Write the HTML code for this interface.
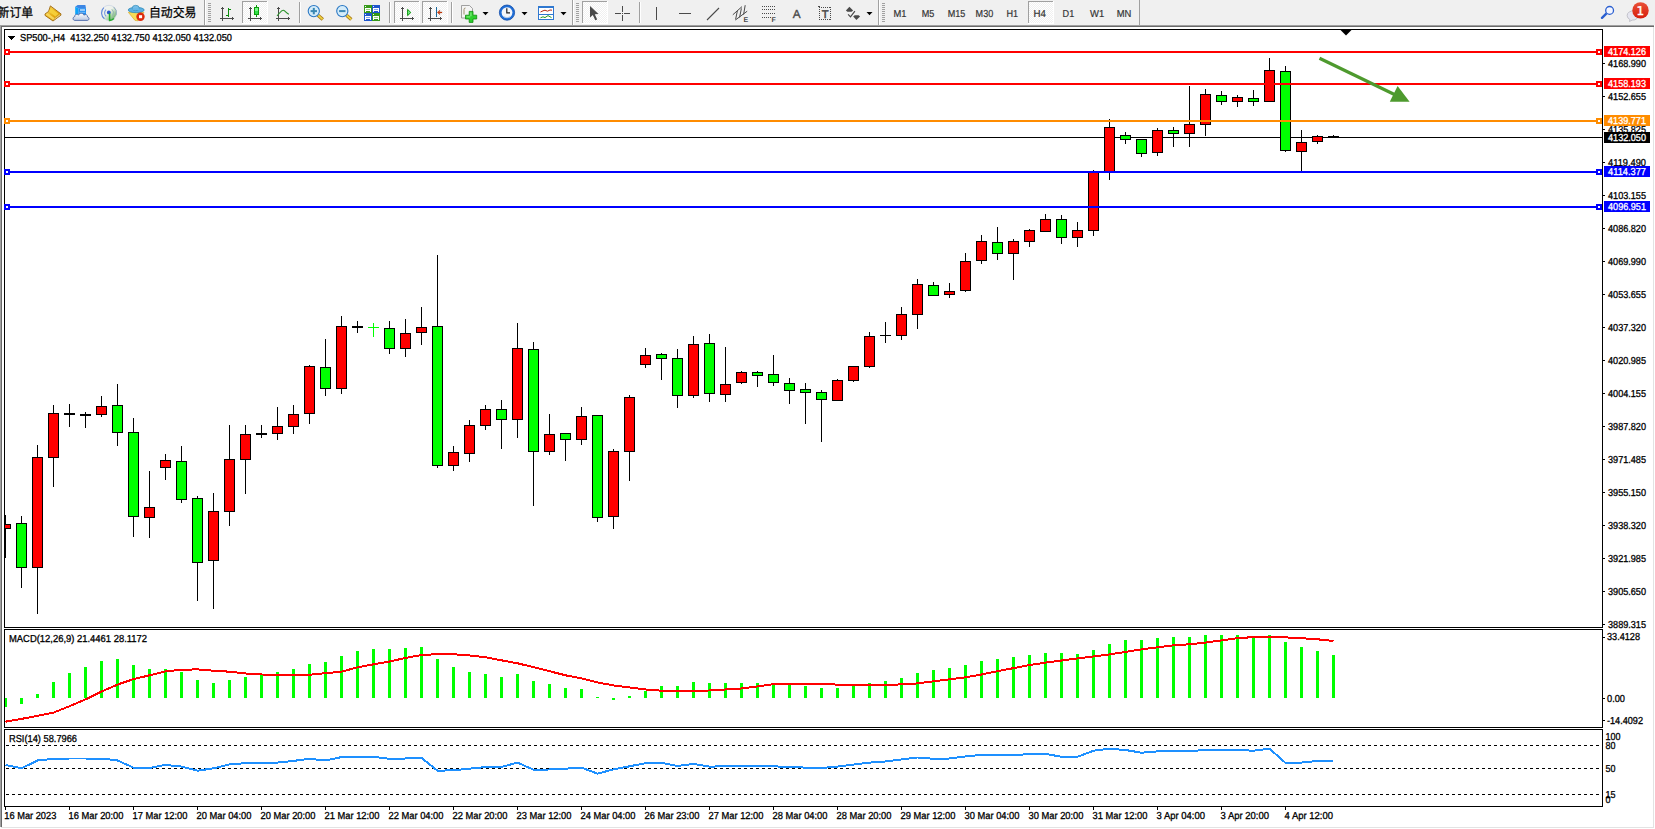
<!DOCTYPE html>
<html lang="zh"><head><meta charset="utf-8"><title>SP500-,H4</title>
<style>html,body{margin:0;padding:0;background:#fff;overflow:hidden}svg{display:block;font-family:"Liberation Sans",sans-serif;text-rendering:geometricPrecision}</style></head><body>
<svg width="1655" height="829" viewBox="0 0 1655 829">
<rect x="0" y="0" width="1655" height="25" fill="#f0f0f0"/>
<defs><pattern id="dith" width="2" height="2" patternUnits="userSpaceOnUse"><rect width="2" height="2" fill="#f0f0f0"/><rect x="0" y="0" width="1" height="1" fill="#fff"/><rect x="1" y="1" width="1" height="1" fill="#fff"/></pattern></defs>
<text x="-2.4" y="16.5" font-size="12.8" fill="#000" stroke="#000" stroke-width="0.25" font-family="'Liberation Sans','Noto Sans CJK SC',sans-serif" textLength="35.6" lengthAdjust="spacingAndGlyphs">新订单</text>
<defs><linearGradient id="gb" x1="0" y1="0" x2="1" y2="1"><stop offset="0" stop-color="#fbe070"/><stop offset="0.55" stop-color="#e6ac10"/><stop offset="1" stop-color="#c88a10"/></linearGradient><linearGradient id="gc" x1="0" y1="0" x2="0" y2="1"><stop offset="0" stop-color="#ffffff"/><stop offset="1" stop-color="#b8c6e0"/></linearGradient><radialGradient id="gs" cx="0.5" cy="0.5" r="0.5"><stop offset="0" stop-color="#ffffff" stop-opacity="0.2"/><stop offset="1" stop-color="#58a858" stop-opacity="0.85"/></radialGradient></defs>
<g><polygon points="50.4,5.9 60.9,13.8 60.9,15.2 53,21 45,15.4 45,14 48.6,11.4" fill="url(#gb)" stroke="#a06a10" stroke-width="0.9" stroke-linejoin="round"/><polygon points="51,8.2 58.4,13.8 55.4,16.4 48.8,11.6" fill="#f6d23c" opacity="0.9"/><polygon points="45.8,14.5 47.6,13 54.8,18.3 53,20" fill="#f8d860" opacity="0.9"/><polygon points="53.6,20.2 60.3,15 60,14.2 55.6,17.7" fill="#e4d8a4"/></g>
<g><polygon points="75.2,6.8 77.6,5 85.4,5 86,8.2 78.4,8.2" fill="#3c86e4"/><polygon points="75.2,6.8 78.4,8.2 78.4,16 75.2,16" fill="#0ca4fa"/><rect x="78.4" y="8.2" width="7.6" height="8" fill="#1e8cf0"/><rect x="80" y="9.4" width="5" height="1.2" fill="#e8f4ff"/><rect x="79.4" y="11.8" width="6" height="1" fill="#7cc0fa"/><path d="M74.8 20.4 C72.6 20.4 72.4 17 74.8 16.5 C74.5 14.3 77.4 13.5 78.5 15.1 C79.5 12.6 83.3 12.8 83.9 15.1 C85.5 13.8 88 15 87.5 16.9 C89.6 17.3 89.4 20.4 87.3 20.4 Z" fill="url(#gc)" stroke="#4a68a8" stroke-width="0.9"/></g>
<defs><linearGradient id="gs2" x1="0.1" y1="0.1" x2="0.9" y2="0.9"><stop offset="0" stop-color="#f2f2f2"/><stop offset="0.45" stop-color="#eef2ea"/><stop offset="1" stop-color="#62ac62"/></linearGradient></defs>
<g fill="none"><circle cx="109" cy="12.9" r="7.6" fill="url(#gs2)" stroke="#c8d2e2" stroke-width="0.7"/><path d="M103.8 7.6 a7.5 7.5 0 0 0 0.6 11.2" stroke="#4a78d8" stroke-width="1.1" opacity="0.85"/><path d="M106 9.6 a4.6 4.6 0 0 0 0.2 6.8" stroke="#5a86dc" stroke-width="1.1" opacity="0.8"/><path d="M111.8 9.2 a4.8 4.8 0 0 1 0.8 6.4" stroke="#88aeb0" stroke-width="1" opacity="0.8"/><path d="M113.6 6.9 a7.5 7.5 0 0 1 2.6 8" stroke="#7a9ab0" stroke-width="1" opacity="0.7"/><circle cx="108.8" cy="12.4" r="1.9" fill="#2a58cc"/><path d="M109.6 13.2 V20.4 a7.6 7.6 0 0 0 4.4 -1.9" stroke="#22a82c" stroke-width="1.5"/></g>
<g><polygon points="128.3,12.3 144,12.3 138,20.8 135,20.4" fill="#f6dc58" stroke="#d4a420" stroke-width="0.6"/><ellipse cx="136.2" cy="10" rx="8" ry="2.7" fill="#5cb0e2" stroke="#2a86b4" stroke-width="0.7"/><ellipse cx="135.7" cy="8" rx="3.5" ry="2.7" fill="#74bce8" stroke="#2a86b4" stroke-width="0.6"/><rect x="132.6" y="8.2" width="6.4" height="1.8" fill="#66b6e6"/><circle cx="140.5" cy="16.7" r="4.2" fill="#de2a0c"/><rect x="139" y="15.2" width="3.1" height="3" fill="#fff"/></g>
<text x="148.9" y="16.5" font-size="12.8" fill="#000" stroke="#000" stroke-width="0.25" font-family="'Liberation Sans','Noto Sans CJK SC',sans-serif" textLength="47.5" lengthAdjust="spacingAndGlyphs">自动交易</text>
<rect x="204" y="0" width="1" height="25" fill="#a0a0a0" shape-rendering="crispEdges"/>
<rect x="205" y="0" width="1" height="25" fill="#ffffff" shape-rendering="crispEdges"/>
<g shape-rendering="crispEdges" fill="#a0a0a0"><rect x="208" y="3" width="3" height="1"/><rect x="208" y="5" width="3" height="1"/><rect x="208" y="7" width="3" height="1"/><rect x="208" y="9" width="3" height="1"/><rect x="208" y="11" width="3" height="1"/><rect x="208" y="13" width="3" height="1"/><rect x="208" y="15" width="3" height="1"/><rect x="208" y="17" width="3" height="1"/><rect x="208" y="19" width="3" height="1"/><rect x="208" y="21" width="3" height="1"/></g>
<g shape-rendering="crispEdges" fill="#4a4a4a"><rect x="222" y="7" width="1" height="14"/><rect x="220" y="18" width="14" height="1"/><rect x="221" y="8" width="3" height="1"/><rect x="232" y="17" width="1" height="3"/></g>
<g shape-rendering="crispEdges" fill="#0c8c0c"><rect x="228" y="8" width="1" height="9"/><rect x="226" y="15" width="2" height="1"/><rect x="229" y="9" width="2" height="1"/></g>
<g shape-rendering="crispEdges"><rect x="242" y="1" width="26" height="23" fill="url(#dith)"/><rect x="242" y="1" width="26" height="1" fill="#a0a0a0"/><rect x="242" y="1" width="1" height="22" fill="#a0a0a0"/><rect x="242" y="23" width="26" height="1" fill="#ffffff"/><rect x="267" y="1" width="1" height="23" fill="#ffffff"/></g>
<g shape-rendering="crispEdges" fill="#4a4a4a"><rect x="250" y="7" width="1" height="14"/><rect x="248" y="18" width="14" height="1"/><rect x="249" y="8" width="3" height="1"/><rect x="260" y="17" width="1" height="3"/></g>
<g shape-rendering="crispEdges"><rect x="256" y="5" width="1" height="12" fill="#0c9c0c"/><rect x="254" y="7" width="5" height="8" fill="#0c9c0c"/><rect x="255" y="8" width="3" height="3" fill="#78f888"/><rect x="255" y="11" width="3" height="3" fill="#30e048"/></g>
<g shape-rendering="crispEdges" fill="#4a4a4a"><rect x="278" y="7" width="1" height="14"/><rect x="276" y="18" width="14" height="1"/><rect x="277" y="8" width="3" height="1"/><rect x="288" y="17" width="1" height="3"/></g>
<path d="M277 15.8 C279.5 13.5 281.4 9.9 283.3 10.3 C285.2 10.7 286.6 13.4 288.9 14.2" fill="none" stroke="#2a922a" stroke-width="1.15"/>
<rect x="299" y="2" width="1" height="21" fill="#a0a0a0" shape-rendering="crispEdges"/>
<rect x="300" y="2" width="1" height="21" fill="#ffffff" shape-rendering="crispEdges"/>
<g><line x1="318.0" y1="15.2" x2="322.8" y2="19.6" stroke="#a87818" stroke-width="3.4" stroke-linecap="butt"/><line x1="318.0" y1="15.2" x2="322.6" y2="19.4" stroke="#f0d440" stroke-width="1.8" stroke-linecap="butt"/><circle cx="313.8" cy="11.1" r="5.6" fill="#d4ecfa" stroke="#2a78c4" stroke-width="1.1"/><rect x="310.6" y="10.1" width="6.4" height="2" fill="#3a88b4"/><rect x="312.8" y="7.9" width="2" height="6.4" fill="#3a88b4"/></g>
<g><line x1="346.5" y1="15.2" x2="351.3" y2="19.6" stroke="#a87818" stroke-width="3.4" stroke-linecap="butt"/><line x1="346.5" y1="15.2" x2="351.1" y2="19.4" stroke="#f0d440" stroke-width="1.8" stroke-linecap="butt"/><circle cx="342.3" cy="11.1" r="5.6" fill="#d4ecfa" stroke="#2a78c4" stroke-width="1.1"/><rect x="339.1" y="10.1" width="6.4" height="2" fill="#3a88b4"/></g>
<g shape-rendering="crispEdges"><rect x="364" y="5" width="8" height="8" fill="#379a18"/><rect x="365" y="6" width="1" height="1" fill="#e8f0ff"/><rect x="365" y="8" width="6" height="3" fill="#fff"/><rect x="365" y="11" width="1" height="1" fill="#fff"/><rect x="370" y="11" width="1" height="1" fill="#fff"/><rect x="366" y="9" width="4" height="1" fill="#9ad080"/><rect x="372" y="5" width="8" height="8" fill="#1f56cc"/><rect x="373" y="6" width="1" height="1" fill="#e8f0ff"/><rect x="373" y="8" width="6" height="3" fill="#fff"/><rect x="373" y="11" width="1" height="1" fill="#fff"/><rect x="378" y="11" width="1" height="1" fill="#fff"/><rect x="374" y="9" width="4" height="1" fill="#8aa8ec"/><rect x="364" y="13" width="8" height="8" fill="#1f56cc"/><rect x="365" y="14" width="1" height="1" fill="#e8f0ff"/><rect x="365" y="16" width="6" height="3" fill="#fff"/><rect x="365" y="19" width="1" height="1" fill="#fff"/><rect x="370" y="19" width="1" height="1" fill="#fff"/><rect x="366" y="17" width="4" height="1" fill="#8aa8ec"/><rect x="372" y="13" width="8" height="8" fill="#379a18"/><rect x="373" y="14" width="1" height="1" fill="#e8f0ff"/><rect x="373" y="16" width="6" height="3" fill="#fff"/><rect x="373" y="19" width="1" height="1" fill="#fff"/><rect x="378" y="19" width="1" height="1" fill="#fff"/><rect x="374" y="17" width="4" height="1" fill="#9ad080"/></g>
<rect x="389" y="2" width="1" height="21" fill="#a0a0a0" shape-rendering="crispEdges"/>
<rect x="390" y="2" width="1" height="21" fill="#ffffff" shape-rendering="crispEdges"/>
<g shape-rendering="crispEdges"><rect x="394" y="1" width="26" height="23" fill="url(#dith)"/><rect x="394" y="1" width="26" height="1" fill="#a0a0a0"/><rect x="394" y="1" width="1" height="22" fill="#a0a0a0"/><rect x="394" y="23" width="26" height="1" fill="#ffffff"/><rect x="419" y="1" width="1" height="23" fill="#ffffff"/></g>
<g shape-rendering="crispEdges" fill="#4a4a4a"><rect x="402" y="7" width="1" height="14"/><rect x="400" y="18" width="14" height="1"/><rect x="401" y="8" width="3" height="1"/><rect x="412" y="17" width="1" height="3"/></g>
<polygon points="407.6,9.4 410.8,12.5 407.6,15.6" fill="#70f080" stroke="#0c960c" stroke-width="1" stroke-linejoin="round"/>
<g shape-rendering="crispEdges"><rect x="422" y="1" width="26" height="23" fill="url(#dith)"/><rect x="422" y="1" width="26" height="1" fill="#a0a0a0"/><rect x="422" y="1" width="1" height="22" fill="#a0a0a0"/><rect x="422" y="23" width="26" height="1" fill="#ffffff"/><rect x="447" y="1" width="1" height="23" fill="#ffffff"/></g>
<g shape-rendering="crispEdges" fill="#4a4a4a"><rect x="430" y="7" width="1" height="14"/><rect x="428" y="18" width="14" height="1"/><rect x="429" y="8" width="3" height="1"/><rect x="440" y="17" width="1" height="3"/></g>
<g shape-rendering="crispEdges"><rect x="436" y="7" width="1" height="10" fill="#1a6a9c"/></g><polygon points="437.2,12.4 439.9,10 439.5,11.9 442,11.9 442,12.9 439.5,12.9 439.9,14.8" fill="#d8400c" stroke="#8a2a08" stroke-width="0.3"/>
<rect x="451" y="2" width="1" height="21" fill="#a0a0a0" shape-rendering="crispEdges"/>
<rect x="452" y="2" width="1" height="21" fill="#ffffff" shape-rendering="crispEdges"/>
<g><path d="M461.5 5.5 h8 l3 3 v9.5 h-11z" fill="#f4f4f4" stroke="#8a8a8a" stroke-width="0.8"/><path d="M465.5 8 q-1.5 0 -1.5 1.5 v5" fill="none" stroke="#8a7a50" stroke-width="0.8"/><path d="M469.2 11.4 h3.8 v3.8 h3.7 v3.8 h-3.7 v3.4 h-3.8 v-3.4 h-3.7 v-3.8 h3.7z" fill="#2ed02e" stroke="#0f8a0f" stroke-width="0.8"/><path d="M470.2 12.4 h1.4 v3.8 h-1.4z M466.5 16.2 h3.7 v1.2 h-3.7z" fill="#8af08a" opacity="0.8"/></g>
<polygon points="482.5,12 488.5,12 485.5,15.2" fill="#000"/>
<g><circle cx="507" cy="12.6" r="7.6" fill="#1f6fd8" stroke="#0f4aa8" stroke-width="0.8"/><circle cx="507" cy="12.6" r="5.4" fill="#f4f6fa"/><path d="M506.8 8.3 v4.6 h3.2" fill="none" stroke="#222" stroke-width="1.2"/><path d="M503.6 16.6 a5.6 5.6 0 0 0 6.8 0" fill="none" stroke="#9ab8e0" stroke-width="0.8"/></g>
<polygon points="521.5,12 527.5,12 524.5,15.2" fill="#000"/>
<g shape-rendering="crispEdges"><rect x="538" y="6" width="16" height="14" fill="#2f78d0"/><rect x="539" y="8" width="14" height="6" fill="#fff"/><rect x="539" y="15" width="14" height="4" fill="#fff"/></g><path d="M540.5 12 l2.5 -1.2 l2 -0.6 l2.5 1 l2.5 -1.2 l2 0.2" fill="none" stroke="#b02810" stroke-width="1"/><path d="M540.5 17.8 l2.5 -1 l2 0.8 l3 -2 l3.5 2" fill="none" stroke="#1f9a1f" stroke-width="1"/>
<polygon points="560.5,12 566.5,12 563.5,15.2" fill="#000"/>
<rect x="572" y="0" width="1" height="25" fill="#a0a0a0" shape-rendering="crispEdges"/>
<rect x="573" y="0" width="1" height="25" fill="#ffffff" shape-rendering="crispEdges"/>
<g shape-rendering="crispEdges" fill="#a0a0a0"><rect x="576" y="3" width="3" height="1"/><rect x="576" y="5" width="3" height="1"/><rect x="576" y="7" width="3" height="1"/><rect x="576" y="9" width="3" height="1"/><rect x="576" y="11" width="3" height="1"/><rect x="576" y="13" width="3" height="1"/><rect x="576" y="15" width="3" height="1"/><rect x="576" y="17" width="3" height="1"/><rect x="576" y="19" width="3" height="1"/><rect x="576" y="21" width="3" height="1"/></g>
<g shape-rendering="crispEdges"><rect x="582" y="1" width="26" height="23" fill="url(#dith)"/><rect x="582" y="1" width="26" height="1" fill="#a0a0a0"/><rect x="582" y="1" width="1" height="22" fill="#a0a0a0"/><rect x="582" y="23" width="26" height="1" fill="#ffffff"/><rect x="607" y="1" width="1" height="23" fill="#ffffff"/></g>
<polygon points="590,6 590,17.5 592.8,15 595.3,20.3 597.2,19.4 594.8,14.3 598.5,14" fill="#4a4a4a"/>
<g shape-rendering="crispEdges" fill="#4a4a4a"><rect x="622" y="6" width="1" height="6"/><rect x="622" y="15" width="1" height="6"/><rect x="615" y="13" width="6" height="1"/><rect x="624" y="13" width="6" height="1"/><rect x="622" y="13" width="1" height="1"/></g>
<rect x="639" y="2" width="1" height="21" fill="#a0a0a0" shape-rendering="crispEdges"/>
<rect x="640" y="2" width="1" height="21" fill="#ffffff" shape-rendering="crispEdges"/>
<g shape-rendering="crispEdges" fill="#4a4a4a"><rect x="656" y="7" width="1" height="13"/><rect x="679" y="13" width="12" height="1"/></g>
<line x1="707" y1="20" x2="719" y2="8" stroke="#4a4a4a" stroke-width="1.1"/>
<g stroke="#4a4a4a" stroke-width="1" fill="none"><line x1="732.8" y1="14.8" x2="742" y2="6.6"/><line x1="735.4" y1="20" x2="747.2" y2="11.2"/><line x1="737.4" y1="10.6" x2="735.6" y2="19.4"/><line x1="741.4" y1="8.4" x2="739.6" y2="17.4"/><line x1="745.2" y1="5.2" x2="743.6" y2="14.6"/></g>
<text x="743.5" y="22" font-size="7" font-weight="bold" fill="#4a4a4a">E</text>
<g shape-rendering="crispEdges" fill="#4a4a4a"><rect x="762" y="6" width="1" height="1"/><rect x="764" y="6" width="1" height="1"/><rect x="766" y="6" width="1" height="1"/><rect x="768" y="6" width="1" height="1"/><rect x="770" y="6" width="1" height="1"/><rect x="772" y="6" width="1" height="1"/><rect x="774" y="6" width="1" height="1"/><rect x="762" y="9" width="1" height="1"/><rect x="764" y="9" width="1" height="1"/><rect x="766" y="9" width="1" height="1"/><rect x="768" y="9" width="1" height="1"/><rect x="770" y="9" width="1" height="1"/><rect x="772" y="9" width="1" height="1"/><rect x="774" y="9" width="1" height="1"/><rect x="762" y="13" width="1" height="1"/><rect x="764" y="13" width="1" height="1"/><rect x="766" y="13" width="1" height="1"/><rect x="768" y="13" width="1" height="1"/><rect x="770" y="13" width="1" height="1"/><rect x="772" y="13" width="1" height="1"/><rect x="774" y="13" width="1" height="1"/><rect x="762" y="17" width="1" height="1"/><rect x="764" y="17" width="1" height="1"/><rect x="766" y="17" width="1" height="1"/><rect x="768" y="17" width="1" height="1"/><rect x="770" y="17" width="1" height="1"/></g>
<text x="771.5" y="22" font-size="7" font-weight="bold" fill="#4a4a4a">F</text>
<text x="796.8" y="18" font-size="11.8" fill="#4a4a4a" stroke="#4a4a4a" stroke-width="0.35" text-anchor="middle">A</text>
<g shape-rendering="crispEdges" fill="#4a4a4a"><rect x="819" y="7" width="1" height="1"/><rect x="819" y="19" width="1" height="1"/><rect x="821" y="7" width="1" height="1"/><rect x="821" y="19" width="1" height="1"/><rect x="823" y="7" width="1" height="1"/><rect x="823" y="19" width="1" height="1"/><rect x="825" y="7" width="1" height="1"/><rect x="825" y="19" width="1" height="1"/><rect x="827" y="7" width="1" height="1"/><rect x="827" y="19" width="1" height="1"/><rect x="829" y="7" width="1" height="1"/><rect x="829" y="19" width="1" height="1"/><rect x="819" y="7" width="1" height="1"/><rect x="830" y="7" width="1" height="1"/><rect x="819" y="9" width="1" height="1"/><rect x="830" y="9" width="1" height="1"/><rect x="819" y="11" width="1" height="1"/><rect x="830" y="11" width="1" height="1"/><rect x="819" y="13" width="1" height="1"/><rect x="830" y="13" width="1" height="1"/><rect x="819" y="15" width="1" height="1"/><rect x="830" y="15" width="1" height="1"/><rect x="819" y="17" width="1" height="1"/><rect x="830" y="17" width="1" height="1"/><rect x="819" y="19" width="1" height="1"/><rect x="830" y="19" width="1" height="1"/><rect x="818" y="6" width="2" height="1"/></g>
<text x="825.1" y="17.7" font-size="11.2" fill="#4a4a4a" stroke="#4a4a4a" stroke-width="0.5" text-anchor="middle">T</text>
<g fill="#4a4a4a"><polygon points="849.4,6.8 853.1,10.4 851.6,11.7 847.4,11.7 845.9,10.4"/><polygon points="856.4,20 853.2,16.5 854.7,15.2 858.6,15.2 860.1,16.5"/><path d="M848.1 14.4 l2.4 2.4 l4.4 -5.6" fill="none" stroke="#4a4a4a" stroke-width="1.2"/></g>
<polygon points="866.5,12 872.5,12 869.5,15.2" fill="#000"/>
<rect x="878" y="0" width="1" height="25" fill="#a0a0a0" shape-rendering="crispEdges"/>
<rect x="879" y="0" width="1" height="25" fill="#ffffff" shape-rendering="crispEdges"/>
<g shape-rendering="crispEdges" fill="#a0a0a0"><rect x="882" y="3" width="3" height="1"/><rect x="882" y="5" width="3" height="1"/><rect x="882" y="7" width="3" height="1"/><rect x="882" y="9" width="3" height="1"/><rect x="882" y="11" width="3" height="1"/><rect x="882" y="13" width="3" height="1"/><rect x="882" y="15" width="3" height="1"/><rect x="882" y="17" width="3" height="1"/><rect x="882" y="19" width="3" height="1"/><rect x="882" y="21" width="3" height="1"/></g>
<g shape-rendering="crispEdges"><rect x="1028" y="1" width="26" height="23" fill="url(#dith)"/><rect x="1028" y="1" width="26" height="1" fill="#a0a0a0"/><rect x="1028" y="1" width="1" height="22" fill="#a0a0a0"/><rect x="1028" y="23" width="26" height="1" fill="#ffffff"/><rect x="1053" y="1" width="1" height="23" fill="#ffffff"/></g>
<text x="893.5" y="17" font-size="10.2" fill="#333" stroke="#333" stroke-width="0.2" textLength="13" lengthAdjust="spacingAndGlyphs">M1</text>
<text x="921.7" y="17" font-size="10.2" fill="#333" stroke="#333" stroke-width="0.2" textLength="12.6" lengthAdjust="spacingAndGlyphs">M5</text>
<text x="947.7" y="17" font-size="10.2" fill="#333" stroke="#333" stroke-width="0.2" textLength="17.6" lengthAdjust="spacingAndGlyphs">M15</text>
<text x="975.6" y="17" font-size="10.2" fill="#333" stroke="#333" stroke-width="0.2" textLength="17.6" lengthAdjust="spacingAndGlyphs">M30</text>
<text x="1006.5" y="17" font-size="10.2" fill="#333" stroke="#333" stroke-width="0.2" textLength="11.6" lengthAdjust="spacingAndGlyphs">H1</text>
<text x="1033.5" y="17" font-size="10.2" fill="#333" stroke="#333" stroke-width="0.2" textLength="12.4" lengthAdjust="spacingAndGlyphs">H4</text>
<text x="1062.6" y="17" font-size="10.2" fill="#333" stroke="#333" stroke-width="0.2" textLength="11.6" lengthAdjust="spacingAndGlyphs">D1</text>
<text x="1090" y="17" font-size="10.2" fill="#333" stroke="#333" stroke-width="0.2" textLength="14.2" lengthAdjust="spacingAndGlyphs">W1</text>
<text x="1116.7" y="17" font-size="10.2" fill="#333" stroke="#333" stroke-width="0.2" textLength="14.6" lengthAdjust="spacingAndGlyphs">MN</text>
<rect x="1139" y="0" width="1" height="25" fill="#a0a0a0" shape-rendering="crispEdges"/>
<g><line x1="1606.3" y1="13.7" x2="1602" y2="17.8" stroke="#2a5fd0" stroke-width="2.4" stroke-linecap="round"/><circle cx="1609.6" cy="10.4" r="3.9" fill="#f4f6ff" stroke="#2a5fd0" stroke-width="1.3"/></g>
<defs><linearGradient id="bd" x1="0" y1="0" x2="0" y2="1"><stop offset="0" stop-color="#ea5238"/><stop offset="1" stop-color="#d61c0c"/></linearGradient></defs>
<g><path d="M1629.5 21.5 l0.4 -2 a5.6 4.6 0 1 1 2.2 0.6z" fill="#e6e6f0" stroke="#b8b8c0" stroke-width="0.8"/><circle cx="1640.5" cy="10.4" r="8.2" fill="url(#bd)"/><text x="1640.2" y="15" font-size="12" font-family="'DejaVu Sans',sans-serif" fill="#fff" stroke="#fff" stroke-width="0.4" text-anchor="middle">1</text></g>
<g shape-rendering="crispEdges">
<rect x="0" y="25" width="1655" height="804" fill="#fff"/>
<rect x="0" y="25" width="1655" height="1" fill="#a0a0a0"/>
<rect x="0" y="25" width="1" height="802" fill="#a0a0a0"/>
<rect x="1" y="26" width="1654" height="1" fill="#696969"/>
<rect x="1" y="26" width="1" height="801" fill="#696969"/>
<rect x="1653" y="27" width="1" height="801" fill="#e3e3e3"/>
<rect x="1654" y="25" width="1" height="804" fill="#fff"/>
<rect x="1" y="827" width="1653" height="1" fill="#e3e3e3"/>
<rect x="0" y="828" width="1655" height="1" fill="#fff"/>
<rect x="4" y="29" width="1599" height="1" fill="#000"/>
<rect x="4" y="627" width="1599" height="1" fill="#000"/>
<rect x="4" y="29" width="1" height="599" fill="#000"/>
<rect x="1602" y="29" width="1" height="599" fill="#000"/>
<rect x="4" y="629" width="1599" height="1" fill="#000"/>
<rect x="4" y="727" width="1599" height="1" fill="#000"/>
<rect x="4" y="629" width="1" height="99" fill="#000"/>
<rect x="1602" y="629" width="1" height="99" fill="#000"/>
<rect x="4" y="729" width="1599" height="1" fill="#000"/>
<rect x="4" y="806" width="1599" height="1" fill="#000"/>
<rect x="4" y="729" width="1" height="78" fill="#000"/>
<rect x="1602" y="729" width="1" height="78" fill="#000"/>
</g>
<defs><clipPath id="cm"><rect x="5" y="30" width="1597" height="597"/></clipPath><clipPath id="c2"><rect x="5" y="630" width="1597" height="97"/></clipPath><clipPath id="c3"><rect x="5" y="730" width="1597" height="76"/></clipPath></defs>
<g shape-rendering="crispEdges" clip-path="url(#cm)">
<rect x="5" y="137" width="1597" height="1" fill="#000"/>
<rect x="5" y="515" width="1" height="43" fill="#000"/>
<rect x="0" y="524" width="11" height="5" fill="#000"/>
<rect x="1" y="525" width="9" height="3" fill="#ff0000"/>
<rect x="21" y="516" width="1" height="72" fill="#000"/>
<rect x="16" y="523" width="11" height="45" fill="#000"/>
<rect x="17" y="524" width="9" height="43" fill="#00ff00"/>
<rect x="37" y="445" width="1" height="169" fill="#000"/>
<rect x="32" y="457" width="11" height="111" fill="#000"/>
<rect x="33" y="458" width="9" height="109" fill="#ff0000"/>
<rect x="53" y="405" width="1" height="82" fill="#000"/>
<rect x="48" y="413" width="11" height="45" fill="#000"/>
<rect x="49" y="414" width="9" height="43" fill="#ff0000"/>
<rect x="69" y="404" width="1" height="23" fill="#000"/>
<rect x="64" y="413" width="11" height="2" fill="#000"/>
<rect x="85" y="412" width="1" height="16" fill="#000"/>
<rect x="80" y="414" width="11" height="2" fill="#000"/>
<rect x="101" y="396" width="1" height="21" fill="#000"/>
<rect x="96" y="406" width="11" height="9" fill="#000"/>
<rect x="97" y="407" width="9" height="7" fill="#ff0000"/>
<rect x="117" y="384" width="1" height="62" fill="#000"/>
<rect x="112" y="405" width="11" height="28" fill="#000"/>
<rect x="113" y="406" width="9" height="26" fill="#00ff00"/>
<rect x="133" y="418" width="1" height="119" fill="#000"/>
<rect x="128" y="432" width="11" height="85" fill="#000"/>
<rect x="129" y="433" width="9" height="83" fill="#00ff00"/>
<rect x="149" y="471" width="1" height="67" fill="#000"/>
<rect x="144" y="507" width="11" height="11" fill="#000"/>
<rect x="145" y="508" width="9" height="9" fill="#ff0000"/>
<rect x="165" y="454" width="1" height="26" fill="#000"/>
<rect x="160" y="460" width="11" height="8" fill="#000"/>
<rect x="161" y="461" width="9" height="6" fill="#ff0000"/>
<rect x="181" y="446" width="1" height="57" fill="#000"/>
<rect x="176" y="461" width="11" height="39" fill="#000"/>
<rect x="177" y="462" width="9" height="37" fill="#00ff00"/>
<rect x="197" y="496" width="1" height="105" fill="#000"/>
<rect x="192" y="498" width="11" height="65" fill="#000"/>
<rect x="193" y="499" width="9" height="63" fill="#00ff00"/>
<rect x="213" y="493" width="1" height="116" fill="#000"/>
<rect x="208" y="511" width="11" height="50" fill="#000"/>
<rect x="209" y="512" width="9" height="48" fill="#ff0000"/>
<rect x="229" y="425" width="1" height="101" fill="#000"/>
<rect x="224" y="459" width="11" height="53" fill="#000"/>
<rect x="225" y="460" width="9" height="51" fill="#ff0000"/>
<rect x="245" y="425" width="1" height="69" fill="#000"/>
<rect x="240" y="434" width="11" height="26" fill="#000"/>
<rect x="241" y="435" width="9" height="24" fill="#ff0000"/>
<rect x="261" y="425" width="1" height="13" fill="#000"/>
<rect x="256" y="433" width="11" height="2" fill="#000"/>
<rect x="277" y="407" width="1" height="33" fill="#000"/>
<rect x="272" y="426" width="11" height="8" fill="#000"/>
<rect x="273" y="427" width="9" height="6" fill="#ff0000"/>
<rect x="293" y="405" width="1" height="29" fill="#000"/>
<rect x="288" y="414" width="11" height="13" fill="#000"/>
<rect x="289" y="415" width="9" height="11" fill="#ff0000"/>
<rect x="309" y="365" width="1" height="59" fill="#000"/>
<rect x="304" y="366" width="11" height="48" fill="#000"/>
<rect x="305" y="367" width="9" height="46" fill="#ff0000"/>
<rect x="325" y="339" width="1" height="57" fill="#000"/>
<rect x="320" y="367" width="11" height="22" fill="#000"/>
<rect x="321" y="368" width="9" height="20" fill="#00ff00"/>
<rect x="341" y="316" width="1" height="78" fill="#000"/>
<rect x="336" y="326" width="11" height="63" fill="#000"/>
<rect x="337" y="327" width="9" height="61" fill="#ff0000"/>
<rect x="357" y="321" width="1" height="12" fill="#000"/>
<rect x="352" y="326" width="11" height="2" fill="#000"/>
<rect x="373" y="323" width="1" height="14" fill="#00ff00"/>
<rect x="368" y="327" width="11" height="1" fill="#00ff00"/>
<rect x="389" y="321" width="1" height="33" fill="#000"/>
<rect x="384" y="328" width="11" height="21" fill="#000"/>
<rect x="385" y="329" width="9" height="19" fill="#00ff00"/>
<rect x="405" y="319" width="1" height="38" fill="#000"/>
<rect x="400" y="333" width="11" height="16" fill="#000"/>
<rect x="401" y="334" width="9" height="14" fill="#ff0000"/>
<rect x="421" y="307" width="1" height="38" fill="#000"/>
<rect x="416" y="327" width="11" height="6" fill="#000"/>
<rect x="417" y="328" width="9" height="4" fill="#ff0000"/>
<rect x="437" y="255" width="1" height="213" fill="#000"/>
<rect x="432" y="326" width="11" height="140" fill="#000"/>
<rect x="433" y="327" width="9" height="138" fill="#00ff00"/>
<rect x="453" y="446" width="1" height="25" fill="#000"/>
<rect x="448" y="452" width="11" height="14" fill="#000"/>
<rect x="449" y="453" width="9" height="12" fill="#ff0000"/>
<rect x="469" y="420" width="1" height="42" fill="#000"/>
<rect x="464" y="425" width="11" height="29" fill="#000"/>
<rect x="465" y="426" width="9" height="27" fill="#ff0000"/>
<rect x="485" y="405" width="1" height="25" fill="#000"/>
<rect x="480" y="409" width="11" height="17" fill="#000"/>
<rect x="481" y="410" width="9" height="15" fill="#ff0000"/>
<rect x="501" y="400" width="1" height="49" fill="#000"/>
<rect x="496" y="409" width="11" height="11" fill="#000"/>
<rect x="497" y="410" width="9" height="9" fill="#00ff00"/>
<rect x="517" y="323" width="1" height="115" fill="#000"/>
<rect x="512" y="348" width="11" height="72" fill="#000"/>
<rect x="513" y="349" width="9" height="70" fill="#ff0000"/>
<rect x="533" y="342" width="1" height="164" fill="#000"/>
<rect x="528" y="349" width="11" height="103" fill="#000"/>
<rect x="529" y="350" width="9" height="101" fill="#00ff00"/>
<rect x="549" y="414" width="1" height="41" fill="#000"/>
<rect x="544" y="434" width="11" height="18" fill="#000"/>
<rect x="545" y="435" width="9" height="16" fill="#ff0000"/>
<rect x="565" y="433" width="1" height="28" fill="#000"/>
<rect x="560" y="433" width="11" height="7" fill="#000"/>
<rect x="561" y="434" width="9" height="5" fill="#00ff00"/>
<rect x="581" y="407" width="1" height="38" fill="#000"/>
<rect x="576" y="416" width="11" height="24" fill="#000"/>
<rect x="577" y="417" width="9" height="22" fill="#ff0000"/>
<rect x="597" y="415" width="1" height="107" fill="#000"/>
<rect x="592" y="415" width="11" height="103" fill="#000"/>
<rect x="593" y="416" width="9" height="101" fill="#00ff00"/>
<rect x="613" y="449" width="1" height="80" fill="#000"/>
<rect x="608" y="451" width="11" height="66" fill="#000"/>
<rect x="609" y="452" width="9" height="64" fill="#ff0000"/>
<rect x="629" y="395" width="1" height="86" fill="#000"/>
<rect x="624" y="397" width="11" height="55" fill="#000"/>
<rect x="625" y="398" width="9" height="53" fill="#ff0000"/>
<rect x="645" y="348" width="1" height="20" fill="#000"/>
<rect x="640" y="355" width="11" height="10" fill="#000"/>
<rect x="641" y="356" width="9" height="8" fill="#ff0000"/>
<rect x="661" y="353" width="1" height="27" fill="#000"/>
<rect x="656" y="354" width="11" height="5" fill="#000"/>
<rect x="657" y="355" width="9" height="3" fill="#00ff00"/>
<rect x="677" y="349" width="1" height="59" fill="#000"/>
<rect x="672" y="358" width="11" height="38" fill="#000"/>
<rect x="673" y="359" width="9" height="36" fill="#00ff00"/>
<rect x="693" y="336" width="1" height="62" fill="#000"/>
<rect x="688" y="344" width="11" height="52" fill="#000"/>
<rect x="689" y="345" width="9" height="50" fill="#ff0000"/>
<rect x="709" y="334" width="1" height="68" fill="#000"/>
<rect x="704" y="343" width="11" height="51" fill="#000"/>
<rect x="705" y="344" width="9" height="49" fill="#00ff00"/>
<rect x="725" y="347" width="1" height="55" fill="#000"/>
<rect x="720" y="384" width="11" height="11" fill="#000"/>
<rect x="721" y="385" width="9" height="9" fill="#ff0000"/>
<rect x="741" y="371" width="1" height="13" fill="#000"/>
<rect x="736" y="372" width="11" height="11" fill="#000"/>
<rect x="737" y="373" width="9" height="9" fill="#ff0000"/>
<rect x="757" y="371" width="1" height="16" fill="#000"/>
<rect x="752" y="372" width="11" height="4" fill="#000"/>
<rect x="753" y="373" width="9" height="2" fill="#00ff00"/>
<rect x="773" y="355" width="1" height="31" fill="#000"/>
<rect x="768" y="374" width="11" height="9" fill="#000"/>
<rect x="769" y="375" width="9" height="7" fill="#00ff00"/>
<rect x="789" y="378" width="1" height="26" fill="#000"/>
<rect x="784" y="383" width="11" height="8" fill="#000"/>
<rect x="785" y="384" width="9" height="6" fill="#00ff00"/>
<rect x="805" y="383" width="1" height="41" fill="#000"/>
<rect x="800" y="389" width="11" height="4" fill="#000"/>
<rect x="801" y="390" width="9" height="2" fill="#00ff00"/>
<rect x="821" y="390" width="1" height="52" fill="#000"/>
<rect x="816" y="392" width="11" height="8" fill="#000"/>
<rect x="817" y="393" width="9" height="6" fill="#00ff00"/>
<rect x="837" y="379" width="1" height="22" fill="#000"/>
<rect x="832" y="380" width="11" height="21" fill="#000"/>
<rect x="833" y="381" width="9" height="19" fill="#ff0000"/>
<rect x="853" y="366" width="1" height="16" fill="#000"/>
<rect x="848" y="366" width="11" height="15" fill="#000"/>
<rect x="849" y="367" width="9" height="13" fill="#ff0000"/>
<rect x="869" y="332" width="1" height="36" fill="#000"/>
<rect x="864" y="336" width="11" height="31" fill="#000"/>
<rect x="865" y="337" width="9" height="29" fill="#ff0000"/>
<rect x="885" y="322" width="1" height="21" fill="#000"/>
<rect x="880" y="335" width="11" height="1" fill="#000"/>
<rect x="901" y="307" width="1" height="33" fill="#000"/>
<rect x="896" y="314" width="11" height="22" fill="#000"/>
<rect x="897" y="315" width="9" height="20" fill="#ff0000"/>
<rect x="917" y="279" width="1" height="50" fill="#000"/>
<rect x="912" y="284" width="11" height="31" fill="#000"/>
<rect x="913" y="285" width="9" height="29" fill="#ff0000"/>
<rect x="933" y="282" width="1" height="14" fill="#000"/>
<rect x="928" y="285" width="11" height="11" fill="#000"/>
<rect x="929" y="286" width="9" height="9" fill="#00ff00"/>
<rect x="949" y="283" width="1" height="15" fill="#000"/>
<rect x="944" y="291" width="11" height="4" fill="#000"/>
<rect x="945" y="292" width="9" height="2" fill="#ff0000"/>
<rect x="965" y="253" width="1" height="39" fill="#000"/>
<rect x="960" y="261" width="11" height="30" fill="#000"/>
<rect x="961" y="262" width="9" height="28" fill="#ff0000"/>
<rect x="981" y="235" width="1" height="29" fill="#000"/>
<rect x="976" y="241" width="11" height="20" fill="#000"/>
<rect x="977" y="242" width="9" height="18" fill="#ff0000"/>
<rect x="997" y="227" width="1" height="33" fill="#000"/>
<rect x="992" y="242" width="11" height="12" fill="#000"/>
<rect x="993" y="243" width="9" height="10" fill="#00ff00"/>
<rect x="1013" y="239" width="1" height="41" fill="#000"/>
<rect x="1008" y="241" width="11" height="13" fill="#000"/>
<rect x="1009" y="242" width="9" height="11" fill="#ff0000"/>
<rect x="1029" y="229" width="1" height="18" fill="#000"/>
<rect x="1024" y="230" width="11" height="12" fill="#000"/>
<rect x="1025" y="231" width="9" height="10" fill="#ff0000"/>
<rect x="1045" y="214" width="1" height="18" fill="#000"/>
<rect x="1040" y="219" width="11" height="13" fill="#000"/>
<rect x="1041" y="220" width="9" height="11" fill="#ff0000"/>
<rect x="1061" y="215" width="1" height="29" fill="#000"/>
<rect x="1056" y="219" width="11" height="19" fill="#000"/>
<rect x="1057" y="220" width="9" height="17" fill="#00ff00"/>
<rect x="1077" y="222" width="1" height="25" fill="#000"/>
<rect x="1072" y="230" width="11" height="8" fill="#000"/>
<rect x="1073" y="231" width="9" height="6" fill="#ff0000"/>
<rect x="1093" y="170" width="1" height="66" fill="#000"/>
<rect x="1088" y="172" width="11" height="59" fill="#000"/>
<rect x="1089" y="173" width="9" height="57" fill="#ff0000"/>
<rect x="1109" y="119" width="1" height="61" fill="#000"/>
<rect x="1104" y="127" width="11" height="46" fill="#000"/>
<rect x="1105" y="128" width="9" height="44" fill="#ff0000"/>
<rect x="1125" y="132" width="1" height="12" fill="#000"/>
<rect x="1120" y="135" width="11" height="5" fill="#000"/>
<rect x="1121" y="136" width="9" height="3" fill="#00ff00"/>
<rect x="1141" y="139" width="1" height="18" fill="#000"/>
<rect x="1136" y="139" width="11" height="15" fill="#000"/>
<rect x="1137" y="140" width="9" height="13" fill="#00ff00"/>
<rect x="1157" y="128" width="1" height="28" fill="#000"/>
<rect x="1152" y="130" width="11" height="23" fill="#000"/>
<rect x="1153" y="131" width="9" height="21" fill="#ff0000"/>
<rect x="1173" y="127" width="1" height="20" fill="#000"/>
<rect x="1168" y="130" width="11" height="4" fill="#000"/>
<rect x="1169" y="131" width="9" height="2" fill="#00ff00"/>
<rect x="1189" y="86" width="1" height="61" fill="#000"/>
<rect x="1184" y="124" width="11" height="10" fill="#000"/>
<rect x="1185" y="125" width="9" height="8" fill="#ff0000"/>
<rect x="1205" y="89" width="1" height="47" fill="#000"/>
<rect x="1200" y="94" width="11" height="31" fill="#000"/>
<rect x="1201" y="95" width="9" height="29" fill="#ff0000"/>
<rect x="1221" y="91" width="1" height="14" fill="#000"/>
<rect x="1216" y="95" width="11" height="7" fill="#000"/>
<rect x="1217" y="96" width="9" height="5" fill="#00ff00"/>
<rect x="1237" y="95" width="1" height="12" fill="#000"/>
<rect x="1232" y="97" width="11" height="5" fill="#000"/>
<rect x="1233" y="98" width="9" height="3" fill="#ff0000"/>
<rect x="1253" y="90" width="1" height="16" fill="#000"/>
<rect x="1248" y="98" width="11" height="4" fill="#000"/>
<rect x="1249" y="99" width="9" height="2" fill="#00ff00"/>
<rect x="1269" y="58" width="1" height="44" fill="#000"/>
<rect x="1264" y="70" width="11" height="32" fill="#000"/>
<rect x="1265" y="71" width="9" height="30" fill="#ff0000"/>
<rect x="1285" y="66" width="1" height="86" fill="#000"/>
<rect x="1280" y="71" width="11" height="80" fill="#000"/>
<rect x="1281" y="72" width="9" height="78" fill="#00ff00"/>
<rect x="1301" y="130" width="1" height="41" fill="#000"/>
<rect x="1296" y="142" width="11" height="10" fill="#000"/>
<rect x="1297" y="143" width="9" height="8" fill="#ff0000"/>
<rect x="1317" y="135" width="1" height="9" fill="#000"/>
<rect x="1312" y="136" width="11" height="6" fill="#000"/>
<rect x="1313" y="137" width="9" height="4" fill="#ff0000"/>
<rect x="1333" y="135" width="1" height="3" fill="#000"/>
<rect x="1328" y="136" width="11" height="2" fill="#000"/>
<rect x="5" y="51" width="1597" height="2" fill="#ff0000"/>
<rect x="5" y="83" width="1597" height="2" fill="#ff0000"/>
<rect x="5" y="120" width="1597" height="2" fill="#ff8c00"/>
<rect x="5" y="171" width="1597" height="2" fill="#0000ff"/>
<rect x="5" y="206" width="1597" height="2" fill="#0000ff"/>
</g>
<g shape-rendering="crispEdges">
<rect x="4" y="49" width="6" height="6" fill="#ff0000"/>
<rect x="6" y="51" width="2" height="2" fill="#fff"/>
<rect x="1596" y="49" width="6" height="6" fill="#ff0000"/>
<rect x="1598" y="51" width="2" height="2" fill="#fff"/>
<rect x="4" y="81" width="6" height="6" fill="#ff0000"/>
<rect x="6" y="83" width="2" height="2" fill="#fff"/>
<rect x="1596" y="81" width="6" height="6" fill="#ff0000"/>
<rect x="1598" y="83" width="2" height="2" fill="#fff"/>
<rect x="4" y="118" width="6" height="6" fill="#ff8c00"/>
<rect x="6" y="120" width="2" height="2" fill="#fff"/>
<rect x="1596" y="118" width="6" height="6" fill="#ff8c00"/>
<rect x="1598" y="120" width="2" height="2" fill="#fff"/>
<rect x="4" y="169" width="6" height="6" fill="#0000ff"/>
<rect x="6" y="171" width="2" height="2" fill="#fff"/>
<rect x="1596" y="169" width="6" height="6" fill="#0000ff"/>
<rect x="1598" y="171" width="2" height="2" fill="#fff"/>
<rect x="4" y="204" width="6" height="6" fill="#0000ff"/>
<rect x="6" y="206" width="2" height="2" fill="#fff"/>
<rect x="1596" y="204" width="6" height="6" fill="#0000ff"/>
<rect x="1598" y="206" width="2" height="2" fill="#fff"/>
</g>
<g fill="#4e9a2e" stroke="none">
<line x1="1319.5" y1="58.3" x2="1396" y2="95.2" stroke="#4e9a2e" stroke-width="3.2"/>
<polygon points="1397.6,86.0 1409.6,101.8 1389.8,101.8"/>
</g>
<polygon points="1340.5,30 1351.5,30 1346,35.5" fill="#000"/>
<polygon points="8,36 15,36 11.5,39.8" fill="#000" shape-rendering="crispEdges"/>
<text x="20" y="41" font-size="10.1" fill="#000" stroke="#000" stroke-width="0.3" textLength="212" lengthAdjust="spacingAndGlyphs" xml:space="preserve">SP500-,H4  4132.250 4132.750 4132.050 4132.050</text>
<g shape-rendering="crispEdges">
<rect x="1603" y="63" width="2" height="1" fill="#000"/>
<rect x="1603" y="96" width="2" height="1" fill="#000"/>
<rect x="1603" y="129" width="2" height="1" fill="#000"/>
<rect x="1603" y="162" width="2" height="1" fill="#000"/>
<rect x="1603" y="195" width="2" height="1" fill="#000"/>
<rect x="1603" y="228" width="2" height="1" fill="#000"/>
<rect x="1603" y="261" width="2" height="1" fill="#000"/>
<rect x="1603" y="294" width="2" height="1" fill="#000"/>
<rect x="1603" y="327" width="2" height="1" fill="#000"/>
<rect x="1603" y="360" width="2" height="1" fill="#000"/>
<rect x="1603" y="393" width="2" height="1" fill="#000"/>
<rect x="1603" y="426" width="2" height="1" fill="#000"/>
<rect x="1603" y="459" width="2" height="1" fill="#000"/>
<rect x="1603" y="492" width="2" height="1" fill="#000"/>
<rect x="1603" y="525" width="2" height="1" fill="#000"/>
<rect x="1603" y="558" width="2" height="1" fill="#000"/>
<rect x="1603" y="591" width="2" height="1" fill="#000"/>
<rect x="1603" y="624" width="2" height="1" fill="#000"/>
</g>
<text x="1608" y="67" font-size="10.1" fill="#000" stroke="#000" stroke-width="0.3" textLength="38" lengthAdjust="spacingAndGlyphs">4168.990</text>
<text x="1608" y="100" font-size="10.1" fill="#000" stroke="#000" stroke-width="0.3" textLength="38" lengthAdjust="spacingAndGlyphs">4152.655</text>
<text x="1608" y="133" font-size="10.1" fill="#000" stroke="#000" stroke-width="0.3" textLength="38" lengthAdjust="spacingAndGlyphs">4135.825</text>
<text x="1608" y="166" font-size="10.1" fill="#000" stroke="#000" stroke-width="0.3" textLength="38" lengthAdjust="spacingAndGlyphs">4119.490</text>
<text x="1608" y="199" font-size="10.1" fill="#000" stroke="#000" stroke-width="0.3" textLength="38" lengthAdjust="spacingAndGlyphs">4103.155</text>
<text x="1608" y="232" font-size="10.1" fill="#000" stroke="#000" stroke-width="0.3" textLength="38" lengthAdjust="spacingAndGlyphs">4086.820</text>
<text x="1608" y="265" font-size="10.1" fill="#000" stroke="#000" stroke-width="0.3" textLength="38" lengthAdjust="spacingAndGlyphs">4069.990</text>
<text x="1608" y="298" font-size="10.1" fill="#000" stroke="#000" stroke-width="0.3" textLength="38" lengthAdjust="spacingAndGlyphs">4053.655</text>
<text x="1608" y="331" font-size="10.1" fill="#000" stroke="#000" stroke-width="0.3" textLength="38" lengthAdjust="spacingAndGlyphs">4037.320</text>
<text x="1608" y="364" font-size="10.1" fill="#000" stroke="#000" stroke-width="0.3" textLength="38" lengthAdjust="spacingAndGlyphs">4020.985</text>
<text x="1608" y="397" font-size="10.1" fill="#000" stroke="#000" stroke-width="0.3" textLength="38" lengthAdjust="spacingAndGlyphs">4004.155</text>
<text x="1608" y="430" font-size="10.1" fill="#000" stroke="#000" stroke-width="0.3" textLength="38" lengthAdjust="spacingAndGlyphs">3987.820</text>
<text x="1608" y="463" font-size="10.1" fill="#000" stroke="#000" stroke-width="0.3" textLength="38" lengthAdjust="spacingAndGlyphs">3971.485</text>
<text x="1608" y="496" font-size="10.1" fill="#000" stroke="#000" stroke-width="0.3" textLength="38" lengthAdjust="spacingAndGlyphs">3955.150</text>
<text x="1608" y="529" font-size="10.1" fill="#000" stroke="#000" stroke-width="0.3" textLength="38" lengthAdjust="spacingAndGlyphs">3938.320</text>
<text x="1608" y="562" font-size="10.1" fill="#000" stroke="#000" stroke-width="0.3" textLength="38" lengthAdjust="spacingAndGlyphs">3921.985</text>
<text x="1608" y="595" font-size="10.1" fill="#000" stroke="#000" stroke-width="0.3" textLength="38" lengthAdjust="spacingAndGlyphs">3905.650</text>
<text x="1608" y="628" font-size="10.1" fill="#000" stroke="#000" stroke-width="0.3" textLength="38" lengthAdjust="spacingAndGlyphs">3889.315</text>
<g shape-rendering="crispEdges">
<rect x="1604" y="46" width="46" height="11" fill="#ff0000"/>
<rect x="1604" y="78" width="46" height="11" fill="#ff0000"/>
<rect x="1604" y="115" width="46" height="11" fill="#ff8c00"/>
<rect x="1604" y="132" width="46" height="11" fill="#000000"/>
<rect x="1604" y="166" width="46" height="11" fill="#0000ff"/>
<rect x="1604" y="201" width="46" height="11" fill="#0000ff"/>
</g>
<text x="1608" y="55" font-size="10.1" fill="#fff" stroke="#fff" stroke-width="0.3" textLength="38" lengthAdjust="spacingAndGlyphs">4174.126</text>
<text x="1608" y="87" font-size="10.1" fill="#fff" stroke="#fff" stroke-width="0.3" textLength="38" lengthAdjust="spacingAndGlyphs">4158.193</text>
<text x="1608" y="124" font-size="10.1" fill="#fff" stroke="#fff" stroke-width="0.3" textLength="38" lengthAdjust="spacingAndGlyphs">4139.771</text>
<text x="1608" y="141" font-size="10.1" fill="#fff" stroke="#fff" stroke-width="0.3" textLength="38" lengthAdjust="spacingAndGlyphs">4132.050</text>
<text x="1608" y="175" font-size="10.1" fill="#fff" stroke="#fff" stroke-width="0.3" textLength="38" lengthAdjust="spacingAndGlyphs">4114.377</text>
<text x="1608" y="210" font-size="10.1" fill="#fff" stroke="#fff" stroke-width="0.3" textLength="38" lengthAdjust="spacingAndGlyphs">4096.951</text>
<g shape-rendering="crispEdges" clip-path="url(#c2)">
<rect x="4" y="698" width="3" height="9" fill="#00ff00"/>
<rect x="20" y="698" width="3" height="6" fill="#00ff00"/>
<rect x="36" y="694" width="3" height="4" fill="#00ff00"/>
<rect x="52" y="682" width="3" height="16" fill="#00ff00"/>
<rect x="68" y="673" width="3" height="25" fill="#00ff00"/>
<rect x="84" y="667" width="3" height="31" fill="#00ff00"/>
<rect x="100" y="661" width="3" height="37" fill="#00ff00"/>
<rect x="116" y="659" width="3" height="39" fill="#00ff00"/>
<rect x="132" y="665" width="3" height="33" fill="#00ff00"/>
<rect x="148" y="669" width="3" height="29" fill="#00ff00"/>
<rect x="164" y="669" width="3" height="29" fill="#00ff00"/>
<rect x="180" y="672" width="3" height="26" fill="#00ff00"/>
<rect x="196" y="680" width="3" height="18" fill="#00ff00"/>
<rect x="212" y="683" width="3" height="15" fill="#00ff00"/>
<rect x="228" y="680" width="3" height="18" fill="#00ff00"/>
<rect x="244" y="677" width="3" height="21" fill="#00ff00"/>
<rect x="260" y="675" width="3" height="23" fill="#00ff00"/>
<rect x="276" y="672" width="3" height="26" fill="#00ff00"/>
<rect x="292" y="669" width="3" height="29" fill="#00ff00"/>
<rect x="308" y="664" width="3" height="34" fill="#00ff00"/>
<rect x="324" y="662" width="3" height="36" fill="#00ff00"/>
<rect x="340" y="656" width="3" height="42" fill="#00ff00"/>
<rect x="356" y="651" width="3" height="47" fill="#00ff00"/>
<rect x="372" y="649" width="3" height="49" fill="#00ff00"/>
<rect x="388" y="649" width="3" height="49" fill="#00ff00"/>
<rect x="404" y="648" width="3" height="50" fill="#00ff00"/>
<rect x="420" y="647" width="3" height="51" fill="#00ff00"/>
<rect x="436" y="659" width="3" height="39" fill="#00ff00"/>
<rect x="452" y="667" width="3" height="31" fill="#00ff00"/>
<rect x="468" y="672" width="3" height="26" fill="#00ff00"/>
<rect x="484" y="674" width="3" height="24" fill="#00ff00"/>
<rect x="500" y="677" width="3" height="21" fill="#00ff00"/>
<rect x="516" y="674" width="3" height="24" fill="#00ff00"/>
<rect x="532" y="681" width="3" height="17" fill="#00ff00"/>
<rect x="548" y="684" width="3" height="14" fill="#00ff00"/>
<rect x="564" y="688" width="3" height="10" fill="#00ff00"/>
<rect x="580" y="689" width="3" height="9" fill="#00ff00"/>
<rect x="596" y="697" width="3" height="1" fill="#00ff00"/>
<rect x="612" y="698" width="3" height="2" fill="#00ff00"/>
<rect x="628" y="696" width="3" height="2" fill="#00ff00"/>
<rect x="644" y="691" width="3" height="7" fill="#00ff00"/>
<rect x="660" y="686" width="3" height="12" fill="#00ff00"/>
<rect x="676" y="686" width="3" height="12" fill="#00ff00"/>
<rect x="692" y="682" width="3" height="16" fill="#00ff00"/>
<rect x="708" y="683" width="3" height="15" fill="#00ff00"/>
<rect x="724" y="683" width="3" height="15" fill="#00ff00"/>
<rect x="740" y="683" width="3" height="15" fill="#00ff00"/>
<rect x="756" y="683" width="3" height="15" fill="#00ff00"/>
<rect x="772" y="683" width="3" height="15" fill="#00ff00"/>
<rect x="788" y="684" width="3" height="14" fill="#00ff00"/>
<rect x="804" y="686" width="3" height="12" fill="#00ff00"/>
<rect x="820" y="688" width="3" height="10" fill="#00ff00"/>
<rect x="836" y="688" width="3" height="10" fill="#00ff00"/>
<rect x="852" y="686" width="3" height="12" fill="#00ff00"/>
<rect x="868" y="683" width="3" height="15" fill="#00ff00"/>
<rect x="884" y="681" width="3" height="17" fill="#00ff00"/>
<rect x="900" y="678" width="3" height="20" fill="#00ff00"/>
<rect x="916" y="673" width="3" height="25" fill="#00ff00"/>
<rect x="932" y="670" width="3" height="28" fill="#00ff00"/>
<rect x="948" y="668" width="3" height="30" fill="#00ff00"/>
<rect x="964" y="665" width="3" height="33" fill="#00ff00"/>
<rect x="980" y="661" width="3" height="37" fill="#00ff00"/>
<rect x="996" y="659" width="3" height="39" fill="#00ff00"/>
<rect x="1012" y="657" width="3" height="41" fill="#00ff00"/>
<rect x="1028" y="655" width="3" height="43" fill="#00ff00"/>
<rect x="1044" y="653" width="3" height="45" fill="#00ff00"/>
<rect x="1060" y="653" width="3" height="45" fill="#00ff00"/>
<rect x="1076" y="654" width="3" height="44" fill="#00ff00"/>
<rect x="1092" y="650" width="3" height="48" fill="#00ff00"/>
<rect x="1108" y="644" width="3" height="54" fill="#00ff00"/>
<rect x="1124" y="640" width="3" height="58" fill="#00ff00"/>
<rect x="1140" y="640" width="3" height="58" fill="#00ff00"/>
<rect x="1156" y="638" width="3" height="60" fill="#00ff00"/>
<rect x="1172" y="637" width="3" height="61" fill="#00ff00"/>
<rect x="1188" y="637" width="3" height="61" fill="#00ff00"/>
<rect x="1204" y="635" width="3" height="63" fill="#00ff00"/>
<rect x="1220" y="635" width="3" height="63" fill="#00ff00"/>
<rect x="1236" y="635" width="3" height="63" fill="#00ff00"/>
<rect x="1252" y="636" width="3" height="62" fill="#00ff00"/>
<rect x="1268" y="635" width="3" height="63" fill="#00ff00"/>
<rect x="1284" y="642" width="3" height="56" fill="#00ff00"/>
<rect x="1300" y="647" width="3" height="51" fill="#00ff00"/>
<rect x="1316" y="651" width="3" height="47" fill="#00ff00"/>
<rect x="1332" y="655" width="3" height="43" fill="#00ff00"/>
</g>
<polyline points="5.5,721.7 21.5,718.9 37.5,715.9 53.5,712.6 69.5,706.2 85.5,699.4 101.5,691.5 117.5,684.6 133.5,679.1 149.5,675.3 165.5,671.4 181.5,669.7 197.5,669.4 213.5,670.7 229.5,671.7 245.5,673.5 261.5,674.5 277.5,674.7 293.5,674.7 309.5,674.7 325.5,673.2 341.5,671.7 357.5,667.4 373.5,664.3 389.5,661.5 405.5,658.0 421.5,655.0 437.5,654.2 453.5,654.2 469.5,655.5 485.5,657.2 501.5,660.3 517.5,663.3 533.5,667.1 549.5,671.2 565.5,675.3 581.5,678.3 597.5,682.4 613.5,685.4 629.5,687.4 645.5,689.5 661.5,690.7 677.5,690.7 693.5,690.7 709.5,690.5 725.5,689.5 741.5,688.5 757.5,686.4 773.5,684.1 789.5,683.9 805.5,683.9 821.5,683.9 837.5,684.6 853.5,684.9 869.5,684.9 885.5,684.9 901.5,684.4 917.5,683.4 933.5,681.3 949.5,679.3 965.5,677.3 981.5,674.5 997.5,671.2 1013.5,668.1 1029.5,665.1 1045.5,662.6 1061.5,660.5 1077.5,658.5 1093.5,656.5 1109.5,654.4 1125.5,651.9 1141.5,649.4 1157.5,647.3 1173.5,645.3 1189.5,644.3 1205.5,642.6 1221.5,640.4 1237.5,638.2 1253.5,637.1 1269.5,636.8 1285.5,637.4 1301.5,638.2 1317.5,639.3 1333.5,641.0" fill="none" stroke="#ff0000" stroke-width="2" clip-path="url(#c2)" stroke-linejoin="round" shape-rendering="crispEdges"/>
<text x="9" y="642" font-size="10.1" fill="#000" stroke="#000" stroke-width="0.3" textLength="138" lengthAdjust="spacingAndGlyphs">MACD(12,26,9) 21.4461 28.1172</text>
<g shape-rendering="crispEdges">
<rect x="1603" y="637" width="2" height="1" fill="#000"/>
<rect x="1603" y="698" width="2" height="1" fill="#000"/>
<rect x="1603" y="720" width="2" height="1" fill="#000"/>
</g>
<text x="1607" y="640.3" font-size="10.1" fill="#000" stroke="#000" stroke-width="0.3" textLength="33" lengthAdjust="spacingAndGlyphs">33.4128</text>
<text x="1607" y="702" font-size="10.1" fill="#000" stroke="#000" stroke-width="0.3" textLength="18" lengthAdjust="spacingAndGlyphs">0.00</text>
<text x="1607" y="724" font-size="10.1" fill="#000" stroke="#000" stroke-width="0.3" textLength="36" lengthAdjust="spacingAndGlyphs">-14.4092</text>
<g shape-rendering="crispEdges">
<line x1="6" y1="745.5" x2="1602" y2="745.5" stroke="#000" stroke-width="1" stroke-dasharray="3,3"/>
<line x1="6" y1="768.5" x2="1602" y2="768.5" stroke="#000" stroke-width="1" stroke-dasharray="3,3"/>
<line x1="6" y1="794.5" x2="1602" y2="794.5" stroke="#000" stroke-width="1" stroke-dasharray="3,3"/>
</g>
<polyline points="5.5,764.9 21.5,768.3 37.5,760.5 53.5,758.8 69.5,758.5 85.5,758.5 101.5,758.5 117.5,760.5 133.5,767.6 149.5,768.0 165.5,764.9 181.5,766.6 197.5,770.7 213.5,768.3 229.5,764.3 245.5,763.2 261.5,762.9 277.5,762.6 293.5,760.9 309.5,758.8 325.5,760.5 341.5,757.1 357.5,756.8 373.5,756.8 389.5,758.8 405.5,758.5 421.5,757.8 437.5,770.7 453.5,770.3 469.5,768.7 485.5,767.0 501.5,767.0 517.5,762.6 533.5,769.7 549.5,769.5 565.5,768.7 581.5,767.6 597.5,773.7 613.5,769.3 629.5,766.3 645.5,763.2 661.5,762.9 677.5,765.9 693.5,763.9 709.5,766.6 725.5,766.3 741.5,765.9 757.5,765.9 773.5,766.3 789.5,767.0 805.5,767.6 821.5,768.0 837.5,766.6 853.5,764.6 869.5,762.6 885.5,761.5 901.5,759.5 917.5,757.5 933.5,758.8 949.5,758.5 965.5,756.5 981.5,754.8 997.5,755.5 1013.5,755.1 1029.5,754.1 1045.5,753.8 1061.5,756.8 1077.5,756.8 1093.5,750.7 1109.5,748.7 1125.5,750.0 1141.5,752.7 1157.5,751.4 1173.5,751.4 1189.5,751.4 1205.5,749.7 1221.5,749.7 1237.5,750.0 1253.5,750.7 1269.5,748.7 1285.5,762.9 1301.5,762.6 1317.5,760.9 1333.5,760.5" fill="none" stroke="#1e90ff" stroke-width="2" clip-path="url(#c3)" stroke-linejoin="round" shape-rendering="crispEdges"/>
<text x="9" y="742" font-size="10.1" fill="#000" stroke="#000" stroke-width="0.3" textLength="68" lengthAdjust="spacingAndGlyphs">RSI(14) 58.7966</text>
<text x="1605.5" y="740" font-size="10.1" fill="#000" stroke="#000" stroke-width="0.3" textLength="15" lengthAdjust="spacingAndGlyphs">100</text>
<text x="1605.5" y="749" font-size="10.1" fill="#000" stroke="#000" stroke-width="0.3" textLength="10" lengthAdjust="spacingAndGlyphs">80</text>
<text x="1605.5" y="772" font-size="10.1" fill="#000" stroke="#000" stroke-width="0.3" textLength="10" lengthAdjust="spacingAndGlyphs">50</text>
<text x="1605.5" y="798" font-size="10.1" fill="#000" stroke="#000" stroke-width="0.3" textLength="10" lengthAdjust="spacingAndGlyphs">15</text>
<text x="1605.5" y="803" font-size="10.1" fill="#000" stroke="#000" stroke-width="0.3" textLength="5" lengthAdjust="spacingAndGlyphs">0</text>
<g shape-rendering="crispEdges">
<rect x="5" y="807" width="1" height="3" fill="#000"/>
<rect x="69" y="807" width="1" height="3" fill="#000"/>
<rect x="133" y="807" width="1" height="3" fill="#000"/>
<rect x="197" y="807" width="1" height="3" fill="#000"/>
<rect x="261" y="807" width="1" height="3" fill="#000"/>
<rect x="325" y="807" width="1" height="3" fill="#000"/>
<rect x="389" y="807" width="1" height="3" fill="#000"/>
<rect x="453" y="807" width="1" height="3" fill="#000"/>
<rect x="517" y="807" width="1" height="3" fill="#000"/>
<rect x="581" y="807" width="1" height="3" fill="#000"/>
<rect x="645" y="807" width="1" height="3" fill="#000"/>
<rect x="709" y="807" width="1" height="3" fill="#000"/>
<rect x="773" y="807" width="1" height="3" fill="#000"/>
<rect x="837" y="807" width="1" height="3" fill="#000"/>
<rect x="901" y="807" width="1" height="3" fill="#000"/>
<rect x="965" y="807" width="1" height="3" fill="#000"/>
<rect x="1029" y="807" width="1" height="3" fill="#000"/>
<rect x="1093" y="807" width="1" height="3" fill="#000"/>
<rect x="1157" y="807" width="1" height="3" fill="#000"/>
<rect x="1221" y="807" width="1" height="3" fill="#000"/>
<rect x="1285" y="807" width="1" height="3" fill="#000"/>
</g>
<text x="4.3" y="819" font-size="10.1" fill="#000" stroke="#000" stroke-width="0.3" textLength="52" lengthAdjust="spacingAndGlyphs">16 Mar 2023</text>
<text x="68.5" y="819" font-size="10.1" fill="#000" stroke="#000" stroke-width="0.3" textLength="55" lengthAdjust="spacingAndGlyphs">16 Mar 20:00</text>
<text x="132.5" y="819" font-size="10.1" fill="#000" stroke="#000" stroke-width="0.3" textLength="55" lengthAdjust="spacingAndGlyphs">17 Mar 12:00</text>
<text x="196.5" y="819" font-size="10.1" fill="#000" stroke="#000" stroke-width="0.3" textLength="55" lengthAdjust="spacingAndGlyphs">20 Mar 04:00</text>
<text x="260.5" y="819" font-size="10.1" fill="#000" stroke="#000" stroke-width="0.3" textLength="55" lengthAdjust="spacingAndGlyphs">20 Mar 20:00</text>
<text x="324.5" y="819" font-size="10.1" fill="#000" stroke="#000" stroke-width="0.3" textLength="55" lengthAdjust="spacingAndGlyphs">21 Mar 12:00</text>
<text x="388.5" y="819" font-size="10.1" fill="#000" stroke="#000" stroke-width="0.3" textLength="55" lengthAdjust="spacingAndGlyphs">22 Mar 04:00</text>
<text x="452.5" y="819" font-size="10.1" fill="#000" stroke="#000" stroke-width="0.3" textLength="55" lengthAdjust="spacingAndGlyphs">22 Mar 20:00</text>
<text x="516.5" y="819" font-size="10.1" fill="#000" stroke="#000" stroke-width="0.3" textLength="55" lengthAdjust="spacingAndGlyphs">23 Mar 12:00</text>
<text x="580.5" y="819" font-size="10.1" fill="#000" stroke="#000" stroke-width="0.3" textLength="55" lengthAdjust="spacingAndGlyphs">24 Mar 04:00</text>
<text x="644.5" y="819" font-size="10.1" fill="#000" stroke="#000" stroke-width="0.3" textLength="55" lengthAdjust="spacingAndGlyphs">26 Mar 23:00</text>
<text x="708.5" y="819" font-size="10.1" fill="#000" stroke="#000" stroke-width="0.3" textLength="55" lengthAdjust="spacingAndGlyphs">27 Mar 12:00</text>
<text x="772.5" y="819" font-size="10.1" fill="#000" stroke="#000" stroke-width="0.3" textLength="55" lengthAdjust="spacingAndGlyphs">28 Mar 04:00</text>
<text x="836.5" y="819" font-size="10.1" fill="#000" stroke="#000" stroke-width="0.3" textLength="55" lengthAdjust="spacingAndGlyphs">28 Mar 20:00</text>
<text x="900.5" y="819" font-size="10.1" fill="#000" stroke="#000" stroke-width="0.3" textLength="55" lengthAdjust="spacingAndGlyphs">29 Mar 12:00</text>
<text x="964.5" y="819" font-size="10.1" fill="#000" stroke="#000" stroke-width="0.3" textLength="55" lengthAdjust="spacingAndGlyphs">30 Mar 04:00</text>
<text x="1028.5" y="819" font-size="10.1" fill="#000" stroke="#000" stroke-width="0.3" textLength="55" lengthAdjust="spacingAndGlyphs">30 Mar 20:00</text>
<text x="1092.5" y="819" font-size="10.1" fill="#000" stroke="#000" stroke-width="0.3" textLength="55" lengthAdjust="spacingAndGlyphs">31 Mar 12:00</text>
<text x="1156.5" y="819" font-size="10.1" fill="#000" stroke="#000" stroke-width="0.3" textLength="48.5" lengthAdjust="spacingAndGlyphs">3 Apr 04:00</text>
<text x="1220.5" y="819" font-size="10.1" fill="#000" stroke="#000" stroke-width="0.3" textLength="48.5" lengthAdjust="spacingAndGlyphs">3 Apr 20:00</text>
<text x="1284.5" y="819" font-size="10.1" fill="#000" stroke="#000" stroke-width="0.3" textLength="48.5" lengthAdjust="spacingAndGlyphs">4 Apr 12:00</text>
</svg></body></html>
